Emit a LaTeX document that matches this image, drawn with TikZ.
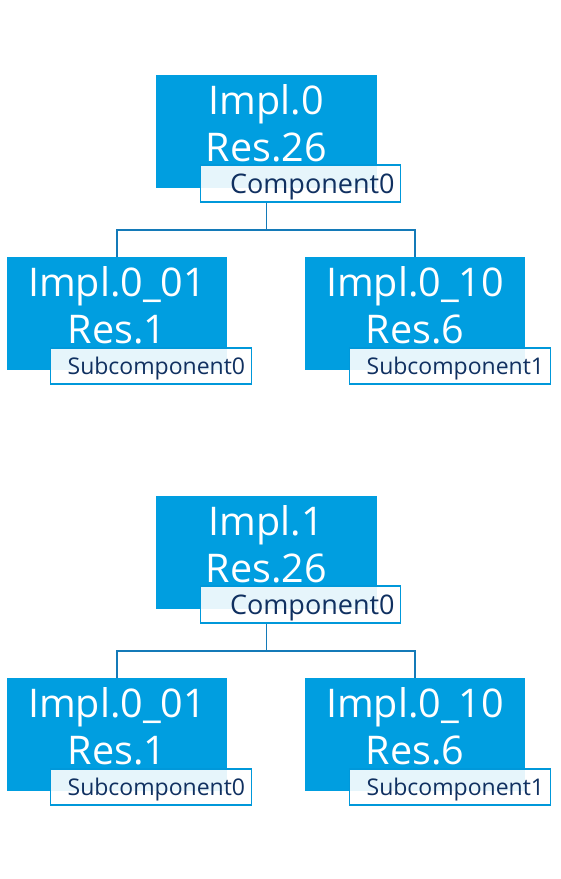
\documentclass[tikz,border=0pt]{standalone}
\usepackage{fontspec}
\setmainfont{Open Sans}
\usetikzlibrary{positioning,calc}
\definecolor{implblue}{RGB}{0,158,224}
\definecolor{tagline}{RGB}{0,152,218}
\definecolor{tagtext}{RGB}{16,48,96}
\definecolor{linkblue}{RGB}{20,122,184}
\tikzset{
  implbox/.style={fill=implblue, text=white, align=center, minimum width=221pt,
    minimum height=113pt, inner sep=0pt, text depth=17pt,
    font=\fontsize{39.5}{47}\selectfont},
  comptag/.style={draw=tagline, line width=1.6pt, fill=white, fill opacity=0.9,
    text opacity=1, text=tagtext, anchor=north west, minimum width=200pt,
    minimum height=37pt, inner xsep=6pt, inner ysep=0pt, text width=188pt,
    text height=24pt, text depth=5pt,
    align=right, font=\fontsize{27}{30}\selectfont},
  subtag/.style={comptag, minimum width=201pt, minimum height=36pt,
    text height=20pt, text depth=4pt, font=\fontsize{23}{26}\selectfont},
  treelink/.style={draw=linkblue, line width=1.7pt},
}

\begin{document}
\begin{tikzpicture}[x=1pt, y=-1pt]
  \useasboundingbox (0,0) rectangle (561,879);
  % first tree
  \node[implbox] (impl0) at (266.5,131.5) {Impl.0\\Res.26};
  \node[comptag] (comp0) at ([shift={(44,-24)}]impl0.south west) {Component0};
  \node[implbox, minimum width=220pt] (impl0a) at (117,313.5) {Impl.0\_01\\Res.1};
  \node[subtag] (sub0a) at ([shift={(43,-23)}]impl0a.south west) {Subcomponent0};
  \node[implbox, minimum width=220pt] (impl0b) at (415,313.5) {Impl.0\_10\\Res.6};
  \node[subtag] (sub0b) at ([shift={(44,-23)}]impl0b.south west) {Subcomponent1};
  \draw[treelink] (impl0.south |- comp0.south) -- ++(0,27) -| (impl0a.north);
  \draw[treelink] (impl0.south |- comp0.south) -- ++(0,27) -| (impl0b.north);
  % second tree
  \node[implbox] (impl1) at (266.5,552.5) {Impl.1\\Res.26};
  \node[comptag] (comp1) at ([shift={(44,-24)}]impl1.south west) {Component0};
  \node[implbox, minimum width=220pt] (impl1a) at (117,734.5) {Impl.0\_01\\Res.1};
  \node[subtag] (sub1a) at ([shift={(43,-23)}]impl1a.south west) {Subcomponent0};
  \node[implbox, minimum width=220pt] (impl1b) at (415,734.5) {Impl.0\_10\\Res.6};
  \node[subtag] (sub1b) at ([shift={(44,-23)}]impl1b.south west) {Subcomponent1};
  \draw[treelink] (impl1.south |- comp1.south) -- ++(0,27) -| (impl1a.north);
  \draw[treelink] (impl1.south |- comp1.south) -- ++(0,27) -| (impl1b.north);
\end{tikzpicture}
\end{document}
